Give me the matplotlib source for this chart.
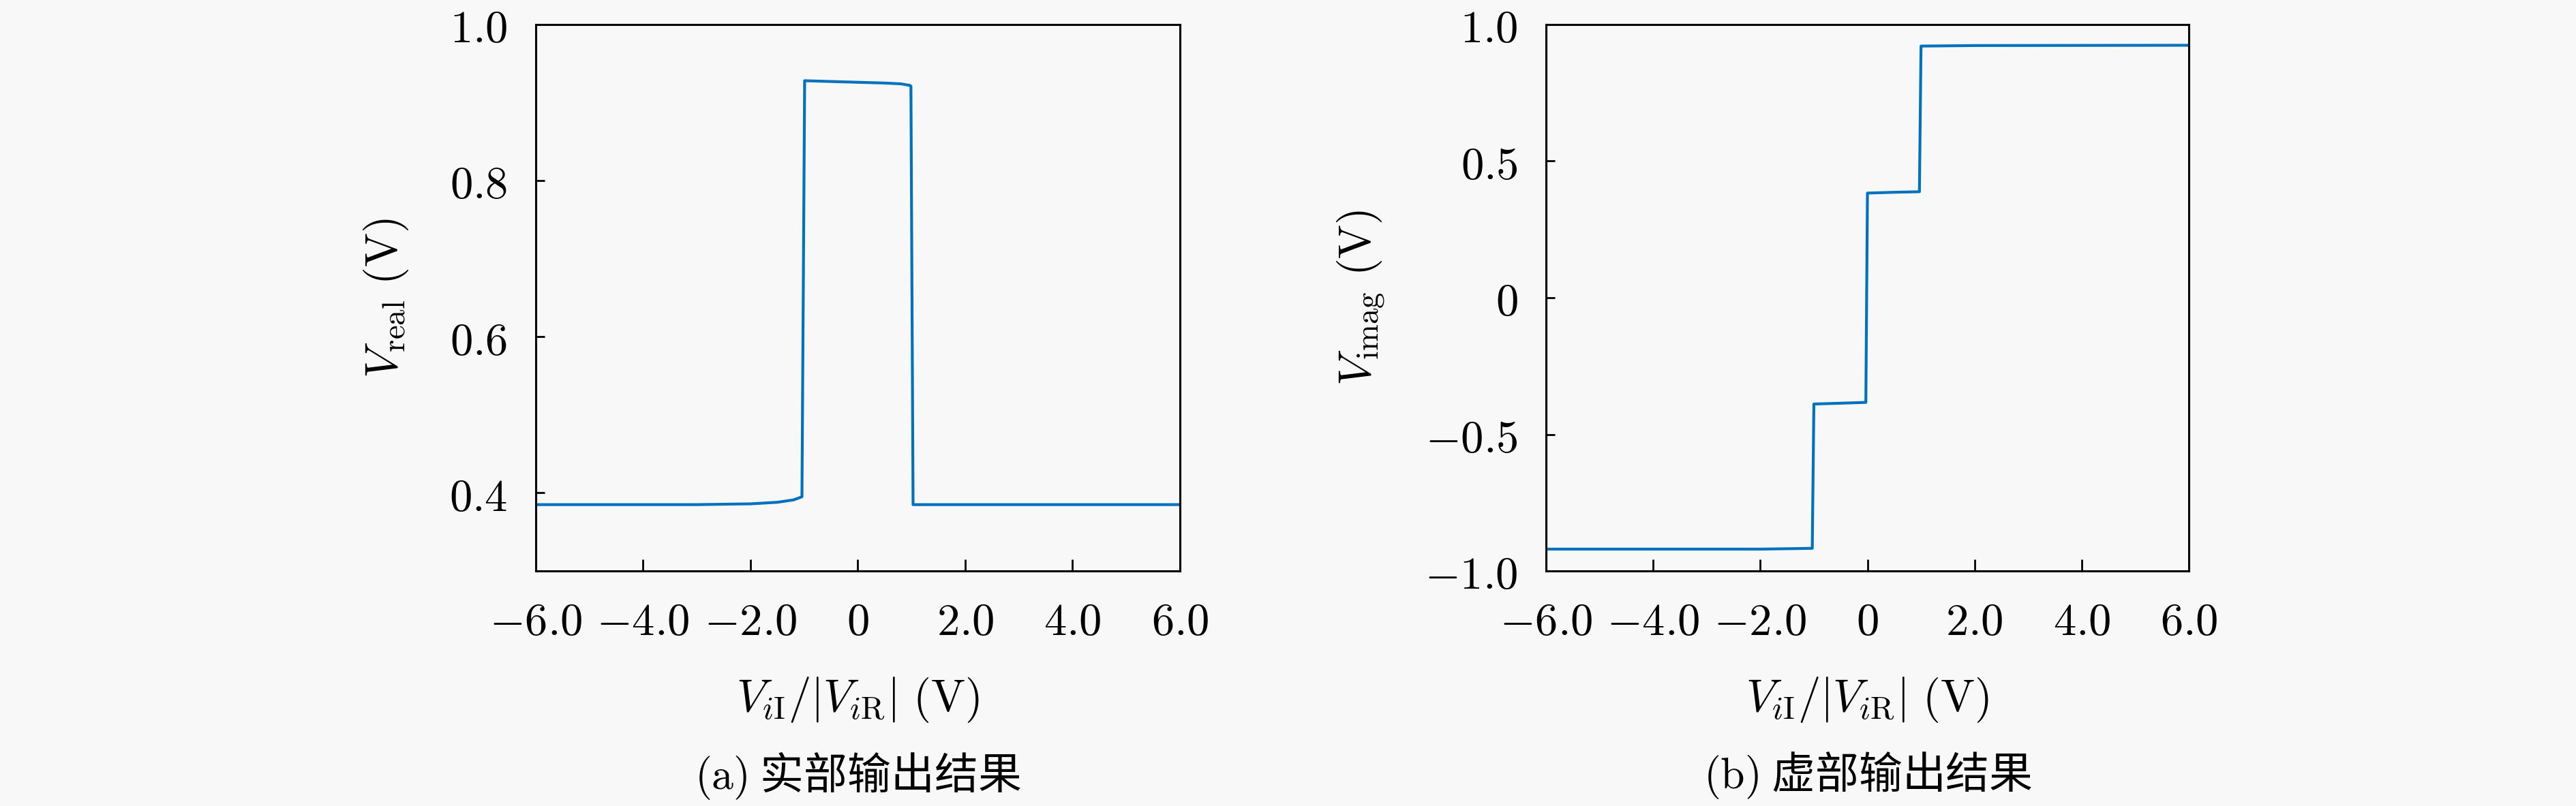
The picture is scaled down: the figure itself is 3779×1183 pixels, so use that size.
import matplotlib
matplotlib.use("Agg")
import matplotlib.pyplot as plt

plt.rcParams["font.family"] = ["Noto Sans CJK SC", "DejaVu Sans"]
plt.rcParams["mathtext.fontset"] = "cm"

BG = "#f8f8f8"
LINE_COLOR = "#0072bd"

X_TICKS = [-6, -4, -2, 0, 2, 4, 6]
X_TICK_LABELS = [r"$-6.0$", r"$-4.0$", r"$-2.0$", r"$0$", r"$2.0$", r"$4.0$", r"$6.0$"]
X_LABEL = r"$V_{i\mathrm{I}}/|V_{i\mathrm{R}}|\ (\mathrm{V})$"

# (a) real part
REAL_X = [-6.0, -3.0, -2.0, -1.5, -1.2, -1.04, -0.99, -0.5, 0.0, 0.5, 0.8, 0.97, 0.99, 1.03, 2.0, 6.0]
REAL_Y = [0.385, 0.385, 0.386, 0.388, 0.391, 0.395, 0.928, 0.927, 0.926, 0.925, 0.924, 0.922, 0.921, 0.385, 0.385, 0.385]
REAL_YTICKS = [0.4, 0.6, 0.8, 1.0]
REAL_YTICK_LABELS = [r"$0.4$", r"$0.6$", r"$0.8$", r"$1.0$"]
REAL_YLABEL = r"$V_{\mathrm{real}}\ (\mathrm{V})$"
REAL_CAPTION = r"$(\mathrm{a})$ 实部输出结果"

# (b) imaginary part
IMAG_X = [-6.0, -2.0, -1.3, -1.03, -1.0, -0.5, -0.03, 0.0, 0.5, 0.97, 1.0, 2.0, 6.0]
IMAG_Y = [-0.920, -0.920, -0.918, -0.917, -0.389, -0.386, -0.383, 0.383, 0.386, 0.388, 0.921, 0.923, 0.924]
IMAG_YTICKS = [-1.0, -0.5, 0.0, 0.5, 1.0]
IMAG_YTICK_LABELS = [r"$-1.0$", r"$-0.5$", r"$0$", r"$0.5$", r"$1.0$"]
IMAG_YLABEL = r"$V_{\mathrm{imag}}\ (\mathrm{V})$"
IMAG_CAPTION = r"$(\mathrm{b})$ 虚部输出结果"

FS = 48


def style_axes(ax, yticks, ytick_labels, ylim):
    ax.set_facecolor(BG)
    ax.set_xlim(-6, 6)
    ax.set_ylim(*ylim)
    ax.set_xticks(X_TICKS)
    ax.set_xticklabels(X_TICK_LABELS, fontsize=FS)
    ax.set_yticks(yticks)
    ax.set_yticklabels(ytick_labels, fontsize=FS)
    ax.tick_params(axis="x", direction="in", length=12, width=2, pad=30)
    ax.tick_params(axis="y", direction="in", length=9, width=2, pad=30)
    for sp in ax.spines.values():
        sp.set_linewidth(2.2)
    ax.set_xlabel(X_LABEL, fontsize=FS, va="center")
    ax.xaxis.set_label_coords(0.5, -0.236)


fig = plt.figure(figsize=(37.8, 11.83), dpi=100, facecolor=BG)

ax1 = fig.add_axes([0.2079, 0.2916, 0.25, 0.678])
ax1.plot(REAL_X, REAL_Y, color=LINE_COLOR, lw=3)
style_axes(ax1, REAL_YTICKS, REAL_YTICK_LABELS, (0.3, 1.0))
ax1.set_ylabel(REAL_YLABEL, fontsize=FS, va="center")
ax1.yaxis.set_label_coords(-0.232, 0.5)

ax2 = fig.add_axes([0.6, 0.2916, 0.2495, 0.678])
ax2.plot(IMAG_X, IMAG_Y, color=LINE_COLOR, lw=3)
style_axes(ax2, IMAG_YTICKS, IMAG_YTICK_LABELS, (-1.0, 1.0))
ax2.set_ylabel(IMAG_YLABEL, fontsize=FS, va="center")
ax2.yaxis.set_label_coords(-0.288, 0.5)

fig.text(1258 / 3780, 1 - 1138 / 1183, REAL_CAPTION, fontsize=46, ha="center", va="center")
fig.text(2740 / 3780, 1 - 1138 / 1183, IMAG_CAPTION, fontsize=46, ha="center", va="center")

fig.savefig("out.png", dpi=100, facecolor=BG)
